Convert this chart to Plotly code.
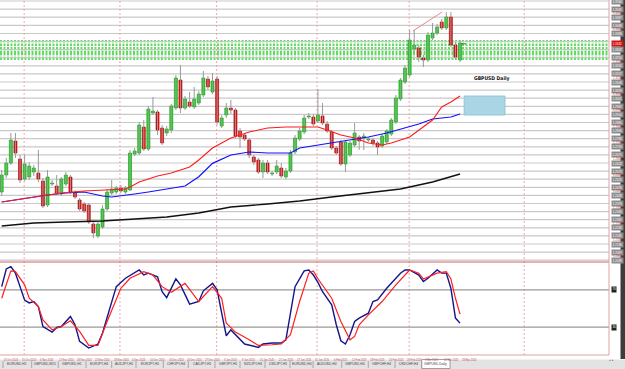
import plotly.graph_objects as go

# ---------------- data ----------------
bars = list(range(101))
opens = [1.2448,1.2550,1.2622,1.2754,1.2646,1.2526,1.2538,1.2568,1.2562,1.2514,
         1.2370,1.2496,1.2484,1.2436,1.2496,1.2538,1.2442,1.2400,1.2376,1.2370,
         1.2256,1.2184,1.2238,1.2346,1.2442,1.2448,1.2472,1.2448,1.2460,1.2676,
         1.2682,1.2838,1.2706,1.2922,1.2928,1.2832,1.2802,1.2820,1.2952,1.3120,
         1.2952,1.2988,1.2958,1.2982,1.3030,1.3126,1.3048,1.3126,1.2844,1.2910,
         1.2952,1.2940,1.2814,1.2790,1.2760,1.2658,1.2640,1.2568,1.2622,1.2556,
         1.2568,1.2592,1.2538,1.2574,1.2688,1.2766,1.2808,1.2898,1.2898,1.2874,
         1.2904,1.2856,1.2808,1.2712,1.2748,1.2616,1.2670,1.2730,1.2778,1.2772,
         1.2760,1.2760,1.2742,1.2724,1.2748,1.2796,1.2868,1.3006,1.3108,1.3150,
         1.3306,1.3312,1.3252,1.3240,1.3372,1.3402,1.3468,1.3432,1.3498,1.3330,
         1.3240]
highs = [1.2580,1.2652,1.2802,1.2802,1.2670,1.2670,1.2628,1.2610,1.2700,1.2532,
         1.2580,1.2520,1.2550,1.2538,1.2568,1.2550,1.2460,1.2412,1.2388,1.2382,
         1.2268,1.2268,1.2370,1.2466,1.2520,1.2484,1.2490,1.2484,1.2700,1.2712,
         1.2868,1.2880,1.2964,1.3018,1.2940,1.2850,1.2844,1.2976,1.3150,1.3210,
         1.3024,1.3048,1.3078,1.3054,1.3174,1.3144,1.3162,1.3144,1.2910,1.2982,
         1.3000,1.2952,1.2832,1.2802,1.2772,1.2670,1.2652,1.2640,1.2640,1.2574,
         1.2640,1.2622,1.2592,1.2700,1.2790,1.2832,1.2910,1.2922,1.2916,1.3066,
         1.2982,1.2874,1.2820,1.2724,1.2760,1.2760,1.2754,1.2862,1.2790,1.2802,
         1.2778,1.2772,1.2754,1.2796,1.2826,1.2892,1.3030,1.3132,1.3210,1.3420,
         1.3420,1.3330,1.3270,1.3408,1.3462,1.3456,1.3486,1.3528,1.3528,1.3348,
         1.3360]
lows = [1.2424,1.2532,1.2610,1.2652,1.2502,1.2514,1.2520,1.2544,1.2508,1.2352,
        1.2358,1.2484,1.2430,1.2424,1.2484,1.2436,1.2406,1.2334,1.2322,1.2256,
        1.2172,1.2172,1.2226,1.2334,1.2430,1.2436,1.2442,1.2436,1.2454,1.2664,
        1.2670,1.2694,1.2694,1.2910,1.2790,1.2730,1.2784,1.2802,1.2940,1.2922,
        1.2940,1.2952,1.2946,1.2970,1.3018,1.3060,1.3036,1.2850,1.2832,1.2892,
        1.2916,1.2772,1.2712,1.2754,1.2652,1.2610,1.2556,1.2532,1.2556,1.2544,
        1.2556,1.2532,1.2526,1.2562,1.2676,1.2754,1.2796,1.2886,1.2844,1.2862,
        1.2850,1.2802,1.2700,1.2670,1.2604,1.2568,1.2658,1.2718,1.2700,1.2700,
        1.2748,1.2724,1.2670,1.2712,1.2736,1.2784,1.2856,1.2994,1.3096,1.3138,
        1.3288,1.3228,1.3198,1.3228,1.3360,1.3390,1.3420,1.3420,1.3318,1.3240,
        1.3228]
closes = [1.2550,1.2622,1.2760,1.2682,1.2520,1.2616,1.2604,1.2592,1.2526,1.2364,
          1.2538,1.2502,1.2442,1.2526,1.2550,1.2448,1.2418,1.2346,1.2334,1.2268,
          1.2202,1.2256,1.2346,1.2448,1.2466,1.2472,1.2454,1.2472,1.2682,1.2694,
          1.2850,1.2706,1.2946,1.2934,1.2820,1.2742,1.2826,1.2964,1.3132,1.2952,
          1.3006,1.2964,1.3006,1.3036,1.3132,1.3078,1.3114,1.2868,1.2892,1.2952,
          1.2940,1.2784,1.2778,1.2766,1.2670,1.2628,1.2568,1.2622,1.2568,1.2562,
          1.2604,1.2544,1.2574,1.2682,1.2772,1.2814,1.2892,1.2904,1.2856,1.2910,
          1.2862,1.2814,1.2712,1.2682,1.2616,1.2748,1.2742,1.2802,1.2754,1.2784,
          1.2766,1.2742,1.2718,1.2784,1.2814,1.2880,1.3012,1.3120,1.3192,1.3360,
          1.3330,1.3258,1.3240,1.3390,1.3402,1.3438,1.3432,1.3498,1.3330,1.3258,
          1.3342]

ma_red_x = [0, 7, 13, 18, 22, 27, 28, 30, 34, 37, 41, 43, 46, 50, 54, 58, 62, 65, 69, 71, 74, 77, 80, 83, 85, 89, 91, 94, 96, 98, 100]
ma_red_y = [1.2388, 1.2418, 1.2442, 1.2454, 1.2460, 1.2466, 1.2478, 1.2508, 1.2544, 1.2562, 1.2598, 1.2640, 1.2712,
            1.2772, 1.2808, 1.2832, 1.2838, 1.2838, 1.2838, 1.2820, 1.2790, 1.2772, 1.2742, 1.2730, 1.2742, 1.2778,
            1.2820, 1.2880, 1.2958, 1.2988, 1.3024]
ma_blue_x = [0, 4, 7, 10, 14, 18, 20, 22, 24, 26, 29, 32, 36, 40, 43, 46, 50, 54, 58, 63, 65, 72, 77, 80, 84, 87, 91, 94, 98, 100]
ma_blue_y = [1.2388, 1.2406, 1.2418, 1.2430, 1.2442, 1.2448, 1.2436, 1.2424, 1.2418, 1.2424, 1.2436, 1.2448, 1.2466,
             1.2484, 1.2540, 1.2620, 1.2670, 1.2688, 1.2682, 1.2682, 1.2712, 1.2742, 1.2766, 1.2778, 1.2802, 1.2826,
             1.2856, 1.2886, 1.2898, 1.2916]
ma_black_x = [0, 7, 14, 22, 29, 36, 43, 50, 58, 65, 72, 80, 87, 94, 100]
ma_black_y = [1.2244, 1.2262, 1.2268, 1.2274, 1.2286, 1.2298, 1.2322, 1.2358, 1.2376, 1.2394, 1.2418, 1.2442,
              1.2466, 1.2508, 1.2556]

stoch_k_x = [0, 1, 2, 3, 4, 5, 6, 7, 8, 9, 11, 12, 13, 15, 16, 17, 19, 21, 22, 25, 27, 30, 31, 32, 34, 35, 36,
             38, 39, 41, 43, 44, 46, 47, 48, 49, 50, 51, 53, 56, 57, 59, 61, 62, 64, 66, 67, 68, 69, 70, 72, 73,
             74, 75, 76, 77, 78, 80, 81, 82, 84, 87, 88, 89, 91, 92, 93, 95, 96, 97, 98, 99, 100]
stoch_k = [73.5, 92.5, 95, 88, 73.5, 59, 56, 57.5, 52, 30.6, 24.6, 29.6, 30.6, 41.4, 32.5, 14.6, 7.5, 11.8, 23.6,
           73.5, 82.5, 91.4, 86, 88, 84, 68, 61.7, 81.8, 75.4, 54.7, 57.5, 69, 77, 70, 45, 20.7, 27, 21.8, 11.8,
           8.2, 11.8, 12.9, 12.9, 16.4, 73.5, 90.4, 91.4, 86, 78, 68, 54, 32.5, 15.3, 11.8, 21.8, 36, 39.7, 45,
           57.5, 59.3, 71.8, 88, 91.4, 91.4, 86, 78.9, 82.5, 91.4, 88, 88, 71.8, 39.7, 34.3]
stoch_d_x = [0, 1, 2, 3, 5, 6, 8, 9, 11, 13, 15, 17, 19, 21, 23, 26, 28, 31, 33, 35, 37, 40, 42, 43, 46, 48, 49,
             51, 54, 56, 59, 61, 63, 65, 67, 68, 69, 72, 74, 76, 77, 78, 80, 83, 86, 89, 91, 92, 95, 97, 98, 99, 100]
stoch_d = [61, 75.4, 90.4, 89.6, 75.4, 61, 52, 37.8, 27, 30.6, 36.8, 25.3, 10.3, 10.3, 36, 71.8, 82.5, 89.6, 86,
           73.5, 67.5, 77, 64.6, 57.5, 73.5, 61, 34.3, 24.6, 16.4, 10.3, 11, 11.8, 21.8, 57.5, 88, 90.4, 82, 61,
           36, 16.4, 20, 32.5, 43.2, 57.5, 75.4, 91.4, 88, 81.8, 88, 89.6, 82, 61, 44]

grid_levels = [1.3594, 1.3545, 1.3497, 1.3448, 1.3399, 1.3351, 1.3302, 1.3254, 1.3205, 1.3157, 1.3108,
               1.3059, 1.3011, 1.2962, 1.2914, 1.2865, 1.2816, 1.2768, 1.2719, 1.2671, 1.2622, 1.2573,
               1.2525, 1.2476, 1.2428, 1.2379, 1.2330, 1.2282, 1.2233, 1.2185, 1.2136, 1.2087, 1.2039]
date_bars = [0, 4, 8, 12, 16, 20, 24, 28, 32, 36, 40, 44, 48, 52, 56, 60, 64, 68, 72, 76, 80, 84, 88, 92, 96, 100]
date_labels = ["25 Oct 2024", "31 Oct 2024", "6 Nov 2024", "12 Nov 2024", "18 Nov 2024", "22 Nov 2024",
               "28 Nov 2024", "4 Dec 2024", "10 Dec 2024", "16 Dec 2024", "20 Dec 2024", "27 Dec 2024",
               "3 Jan 2025", "9 Jan 2025", "15 Jan 2025", "21 Jan 2025", "27 Jan 2025", "31 Jan 2025",
               "6 Feb 2025", "12 Feb 2025", "18 Feb 2025", "24 Feb 2025", "28 Feb 2025", "6 Mar 2025",
               "12 Mar 2025", "18 Mar 2025"]
separator_bars = [4.9, 25.8, 46.9, 68.8, 88.9, 114.0]
tab_labels = ["EURUSD,H1", "GBPUSD,M15", "GBPUSD,H1", "EURJPY,H4", "AUDJPY,H1", "EURJPY,H1", "CHFJPY,H4",
              "CADJPY,H1", "GBPJPY,H1", "NZDJPY,H4", "USDJPY,H1", "EURUSD,H4", "AUDUSD,H4", "GBPUSD,H4",
              "GBPCHF,H4", "USDCHF,H4", "GBPUSD,Daily"]
tab_edges = [3, 31.7, 58.3, 86, 111.7, 136, 163.3, 188.3, 215, 240, 265, 290, 313, 341.7, 368.3, 395, 421.7, 450]
trend_x = [89.7, 96.1]
trend_y = [1.3414, 1.3528]
zone_x = [100.9, 109.8]
zone_y = [1.2910, 1.3024]
band_levels = [1.3354, 1.3342, 1.3330, 1.3312, 1.3300, 1.3288, 1.3276, 1.3264, 1.3246]
last_price = 1.3342
stoch_levels = [70, 30]

# ---------------- geometry ----------------
W, H = 625, 369
PW, PH = 609, 355            # plot area in pixels
XR = [-0.37, 132.5]
YR = [1.2028, 1.3600]
SPLIT = 1 - 262 / PH


def py(p):                   # pixel row -> paper y
    return (PH - p) / PH


def px(p):                   # pixel column -> paper x
    return p / PW


fig = go.Figure()

# wicks
wx, wy = [], []
for i, hi, lo in zip(bars, highs, lows):
    wx += [i, i, None]
    wy += [lo, hi, None]
fig.add_trace(go.Scatter(x=wx, y=wy, mode="lines", line=dict(color="#9a9a9a", width=1),
                         hoverinfo="skip", showlegend=False))

# bodies
base, hgt, fill, edge = [], [], [], []
for o, c in zip(opens, closes):
    base.append(min(o, c))
    hgt.append(max(abs(c - o), 0.0004))
    up = c >= o
    fill.append("#22e022" if up else "#f01010")
    edge.append("#129012" if up else "#a00000")
fig.add_trace(go.Bar(x=bars, y=hgt, base=base, width=0.66,
                     marker=dict(color=fill, line=dict(color=edge, width=0.6)),
                     showlegend=False, hoverinfo="skip"))

fig.add_trace(go.Scatter(x=ma_black_x, y=ma_black_y, mode="lines", line=dict(color="#111111", width=1.4),
                         showlegend=False))
fig.add_trace(go.Scatter(x=ma_blue_x, y=ma_blue_y, mode="lines", line=dict(color="#1010ff", width=1.2),
                         showlegend=False))
fig.add_trace(go.Scatter(x=ma_red_x, y=ma_red_y, mode="lines", line=dict(color="#ff1a1a", width=1.1),
                         showlegend=False))
fig.add_trace(go.Scatter(x=trend_x, y=trend_y, mode="lines", line=dict(color="#e08a8a", width=1),
                         showlegend=False))

# stochastic
fig.add_trace(go.Scatter(x=stoch_k_x, y=stoch_k, mode="lines", line=dict(color="#14148c", width=1.4),
                         xaxis="x2", yaxis="y2", showlegend=False))
fig.add_trace(go.Scatter(x=stoch_d_x, y=stoch_d, mode="lines", line=dict(color="#ff2020", width=1.2),
                         xaxis="x2", yaxis="y2", showlegend=False))

shapes = []
# blue zone
shapes.append(dict(type="rect", xref="x", yref="y", x0=zone_x[0], x1=zone_x[1], y0=zone_y[0], y1=zone_y[1],
                   fillcolor="#a9d5e5", line=dict(color="#8ec6dc", width=1), layer="below"))
# green dotted band
for k, lv in enumerate(band_levels):
    col = "#2fd02f" if k % 3 != 1 else "#a6eba6"
    shapes.append(dict(type="line", xref="paper", yref="y", x0=0, x1=1, y0=lv, y1=lv,
                       line=dict(color=col, width=1.6, dash="2px,1.5px"), layer="below"))
# horizontal gray lines
for lv in grid_levels:
    shapes.append(dict(type="line", xref="paper", yref="y", x0=0, x1=1, y0=lv, y1=lv,
                       line=dict(color="#c9c9c9", width=1.2), layer="below"))
# period separators
for sb in separator_bars:
    shapes.append(dict(type="line", xref="x", yref="paper", x0=sb, x1=sb, y0=0, y1=1,
                       line=dict(color="#f0a8a8", width=1, dash="2px,2px"), layer="below"))
# stochastic levels
for lv in stoch_levels:
    shapes.append(dict(type="line", xref="paper", yref="y2", x0=0, x1=1, y0=lv, y1=lv,
                       line=dict(color="#9a9a9a", width=1.2), layer="below"))
# pane separator and frame
shapes.append(dict(type="line", xref="paper", yref="paper", x0=0, x1=1, y0=SPLIT, y1=SPLIT,
                   line=dict(color="#d06060", width=1)))
shapes.append(dict(type="line", xref="paper", yref="paper", x0=1, x1=1, y0=0, y1=1,
                   line=dict(color="#e0a0a0", width=1)))
shapes.append(dict(type="line", xref="paper", yref="paper", x0=0, x1=1, y0=0, y1=0,
                   line=dict(color="#e0a0a0", width=1)))
# current price marker
shapes.append(dict(type="line", xref="x", yref="y", x0=100.3, x1=101.3, y0=last_price - 0.0005,
                   y1=last_price - 0.0005, line=dict(color="#555555", width=1)))
# right dark strip
shapes.append(dict(type="rect", xref="paper", yref="paper", x0=px(620.5), x1=px(626), y0=py(359), y1=py(-2),
                   fillcolor="#3c3c3c", line=dict(width=0)))
# tab bar
shapes.append(dict(type="rect", xref="paper", yref="paper", x0=px(-2), x1=px(626), y0=py(370), y1=py(359.5),
                   fillcolor="#e3e3e3", line=dict(width=0)))
shapes.append(dict(type="rect", xref="paper", yref="paper", x0=px(tab_edges[-2]), x1=px(tab_edges[-1]),
                   y0=py(368.5), y1=py(359.5), fillcolor="#ffffff", line=dict(color="#8a8a8a", width=0.8)))
for e in tab_edges[:-1]:
    shapes.append(dict(type="line", xref="paper", yref="paper", x0=px(e), x1=px(e), y0=py(368), y1=py(361),
                       line=dict(color="#9a9a9a", width=0.8)))

ann = []
# price scale labels
for k, lv in enumerate(grid_levels):
    if abs(lv - last_price) > 0.0016:
        ann.append(dict(x=1.003, xref="paper", y=lv, yref="y", text=f"{lv:.4f}", showarrow=False,
                        xanchor="left", yanchor="middle",
                        font=dict(size=3, color="#ffffff", family="Liberation Sans"),
                        bgcolor="#8c8c8c", borderpad=0.6))
    mid = lv - 0.0024
    if k % 2 == 1 and k < 32 and abs(mid - last_price) > 0.0016:
        ann.append(dict(x=1.003, xref="paper", y=mid, yref="y", text=f"{mid:.4f}", showarrow=False,
                        xanchor="left", yanchor="middle",
                        font=dict(size=3, color="#d04040", family="Liberation Sans")))
ann.append(dict(x=1.003, xref="paper", y=last_price, yref="y", text=f"{last_price:.4f}", showarrow=False,
                xanchor="left", yanchor="middle", font=dict(size=3, color="#ffffff", family="Liberation Sans"),
                bgcolor="#d01010", borderpad=0.6))
for lv in stoch_levels:
    ann.append(dict(x=1.004, xref="paper", y=lv, yref="y2", text=str(lv), showarrow=False,
                    xanchor="left", yanchor="middle", font=dict(size=3, color="#ffffff", family="Liberation Sans"),
                    bgcolor="#222222", borderpad=0.4))
# chart caption
ann.append(dict(x=106.9, xref="x", y=1.3132, yref="y", text="<b>GBPUSD Daily</b>", showarrow=False,
                font=dict(size=5, color="#111111", family="DejaVu Sans Condensed")))
# date labels
for b, t in zip(date_bars, date_labels):
    ann.append(dict(x=b, xref="x2", y=py(355.5), yref="paper", text=t, showarrow=False,
                    xanchor="left", yanchor="top", font=dict(size=2.6, color="#b05050", family="Liberation Sans")))
# tabs
for k, t in enumerate(tab_labels):
    xc = (tab_edges[k] + tab_edges[k + 1]) / 2
    ann.append(dict(x=px(xc), xref="paper", y=py(364.3), yref="paper", text=t, showarrow=False,
                    xanchor="center", yanchor="middle",
                    font=dict(size=3.4, color="#444444", family="Liberation Sans")))
ann.append(dict(x=px(616), xref="paper", y=py(364.3), yref="paper", text="◂ ▸", showarrow=False,
                font=dict(size=3.4, color="#666666")))

fig.update_layout(
    width=W, height=H, margin=dict(l=0, r=W - PW, t=0, b=H - PH),
    paper_bgcolor="#ffffff", plot_bgcolor="#ffffff", barmode="overlay",
    showlegend=False, shapes=shapes, annotations=ann,
    xaxis=dict(domain=[0, 1], range=XR, anchor="y", showticklabels=False, showgrid=False, zeroline=False,
               fixedrange=True),
    yaxis=dict(domain=[SPLIT, 1], range=YR, showticklabels=False, showgrid=False, zeroline=False),
    xaxis2=dict(domain=[0, 1], range=XR, anchor="y2", matches="x", showticklabels=False, showgrid=False,
                zeroline=False),
    yaxis2=dict(domain=[0, SPLIT], range=[0, 100], showticklabels=False, showgrid=False, zeroline=False),
)

fig.write_html("out.html")
